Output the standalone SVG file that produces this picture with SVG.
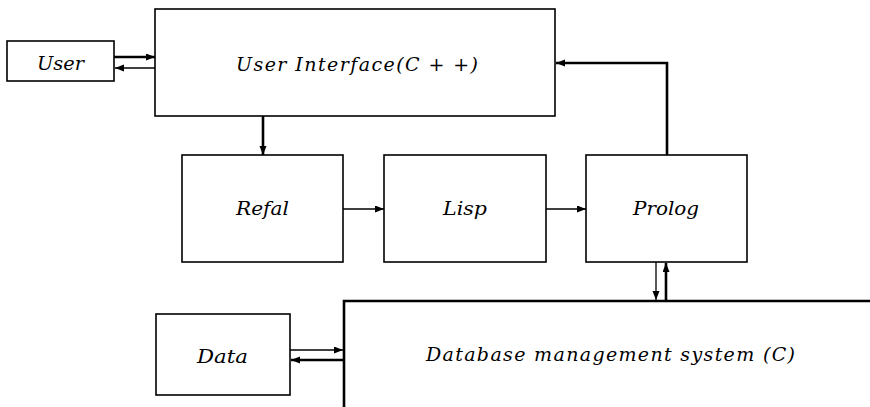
<svg xmlns="http://www.w3.org/2000/svg" width="870" height="407" viewBox="0 0 870 407">
<style>
.box{fill:#fff;stroke:#000;stroke-width:1.6}
.lbl{font-family:"DejaVu Serif","Liberation Serif",serif;font-style:italic;font-size:19px;fill:#000;text-anchor:start}
.thin{fill:none;stroke:#000;stroke-width:1.3}
.thick{fill:none;stroke:#000;stroke-width:2.6}
</style>
<defs>
<marker id="ah" markerUnits="userSpaceOnUse" markerWidth="10" markerHeight="8" refX="9" refY="3.5" orient="auto">
<path d="M0,0 L9,3.5 L0,7 z" fill="#000"/>
</marker>
</defs>
<g id="user"><rect class="box" x="7" y="41" width="107" height="40"/><text class="lbl" x="37" y="70" textLength="47" lengthAdjust="spacingAndGlyphs">User</text></g>
<g id="ui"><rect class="box" x="155" y="9" width="400" height="107"/><text class="lbl" x="236" y="71" textLength="242" lengthAdjust="spacing">User Interface(C + +)</text></g>
<g id="refal"><rect class="box" x="182" y="155" width="161" height="107"/><text class="lbl" x="236" y="215" textLength="53" lengthAdjust="spacingAndGlyphs">Refal</text></g>
<g id="lisp"><rect class="box" x="384" y="155" width="162" height="107"/><text class="lbl" x="443" y="215" textLength="44" lengthAdjust="spacingAndGlyphs">Lisp</text></g>
<g id="prolog"><rect class="box" x="586" y="155" width="161" height="107"/><text class="lbl" x="633" y="215" textLength="66" lengthAdjust="spacingAndGlyphs">Prolog</text></g>
<g id="data"><rect class="box" x="156" y="314" width="134" height="81"/><text class="lbl" x="197" y="363" textLength="51" lengthAdjust="spacingAndGlyphs">Data</text></g>
<g id="dbms"><path class="thick" d="M344,407 V301 H870"/><text class="lbl" x="426" y="361" textLength="369" lengthAdjust="spacing">Database management system (C)</text></g>
<g id="connectors">
<path class="thick" d="M114,57 H155" marker-end="url(#ah)"/>
<path class="thin" d="M155,68 H115" marker-end="url(#ah)"/>
<path class="thick" d="M263,116 V155" marker-end="url(#ah)"/>
<path class="thin" d="M343,209 H384" marker-end="url(#ah)"/>
<path class="thin" d="M546,209 H586" marker-end="url(#ah)"/>
<path class="thick" d="M667,155 V63 H556" marker-end="url(#ah)"/>
<path class="thin" d="M656,262 V300" marker-end="url(#ah)"/>
<path class="thick" d="M666,300 V263" marker-end="url(#ah)"/>
<path class="thin" d="M290,350 H343" marker-end="url(#ah)"/>
<path class="thick" d="M343,360 H291" marker-end="url(#ah)"/>
</g>
</svg>
